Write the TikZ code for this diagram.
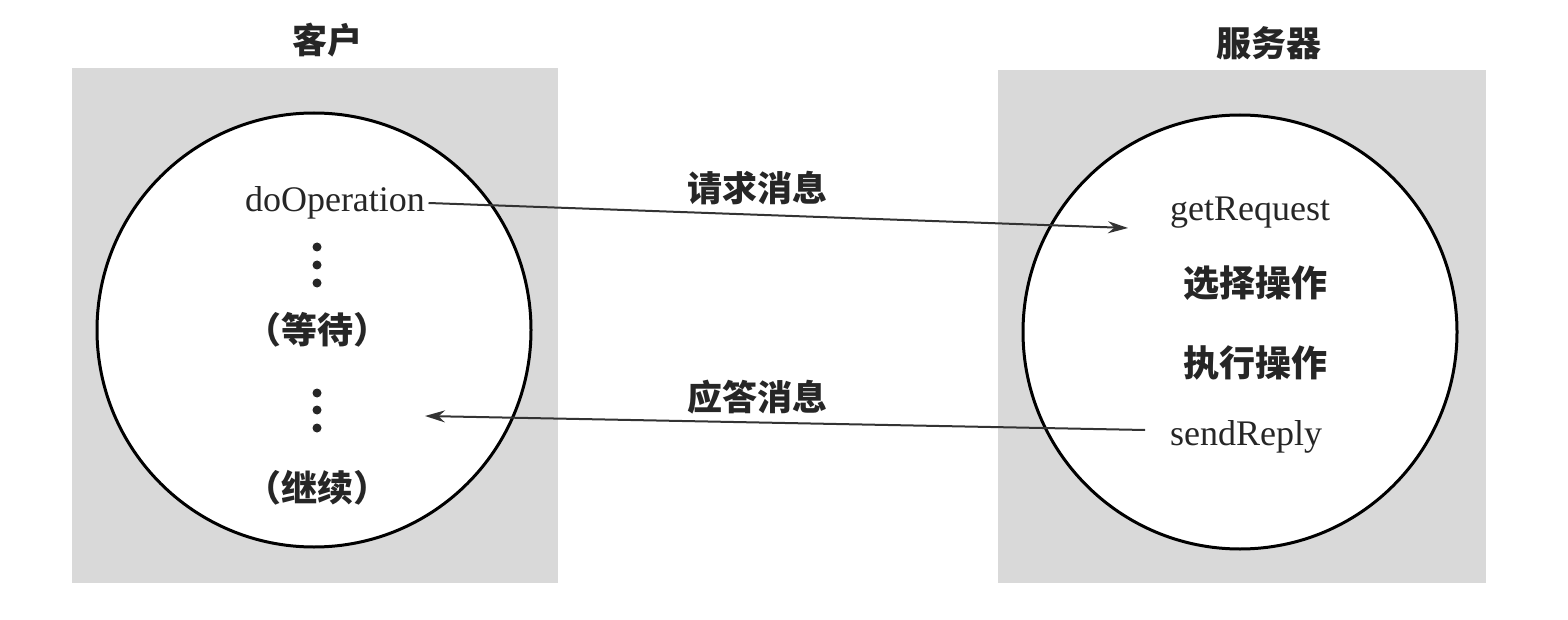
\documentclass[tikz,border=0pt]{standalone}
\usepackage{fontspec}
\usepackage{tikz}
\usetikzlibrary{arrows.meta,positioning}
\setmainfont{Liberation Serif}
\newfontfamily\cjk{Noto Sans CJK SC}
\definecolor{panelgray}{HTML}{D9D9D9}
\tikzset{
  panel/.style={fill=panelgray, draw=none},
  proc/.style={circle, draw=black, line width=3pt, fill=white, inner sep=0pt, minimum size=434pt},
  title/.style={font=\fontsize{35}{38}\selectfont\cjk\bfseries, text=black!85},
  call/.style={font=\fontsize{36}{40}\selectfont, text=black!85},
  stepcn/.style={font=\fontsize{36}{40}\selectfont\cjk\bfseries, text=black!85},
  msg/.style={font=\fontsize{35}{38}\selectfont\cjk\bfseries, text=black!85},
  arrow/.style={-{Stealth[length=20pt, width=12pt]}, line width=2pt, draw=black!80}
}

\begin{document}
\begin{tikzpicture}[x=1pt, y=-1pt]
  \useasboundingbox (0,0) rectangle (1568,620);
  \fill[panel] (72,68) rectangle (558,583);
  \fill[panel] (998,70) rectangle (1486,583);

  \node[title] (clienttitle) at (327,40) {客户};
  \node[title] (servertitle) at (1269,43) {服务器};

  \node[proc] (client) at (314,330) {};
  \node[proc] (server) at (1240,332) {};

  \node[call] (doop) at (335,203) {doOperation};
  \foreach \y in {247,265,283,393,410,428}
    \fill[black!85] (317,\y) circle (4.5);
  \node[stepcn] (wait) at (317,330) {（等待）};
  \node[stepcn] (cont) at (317,488) {（继续）};

  \node[call] (getreq) at (1250,213) {getRequest};
  \node[stepcn] (select) at (1255,283) {选择操作};
  \node[stepcn] (exec) at (1255,363) {执行操作};
  \node[call] (sendrep) at (1246,437) {sendReply};

  \node[msg] (reqmsg) at (757,188) {请求消息};
  \node[msg] (repmsg) at (757,397) {应答消息};

  \coordinate (reqend) at (1128,228);
  \coordinate (repstart) at (1145,430);
  \coordinate (repend) at (425,416);

  \draw[arrow] (doop.east) -- (reqend);
  \draw[arrow] (repstart) -- (repend);
\end{tikzpicture}
\end{document}
